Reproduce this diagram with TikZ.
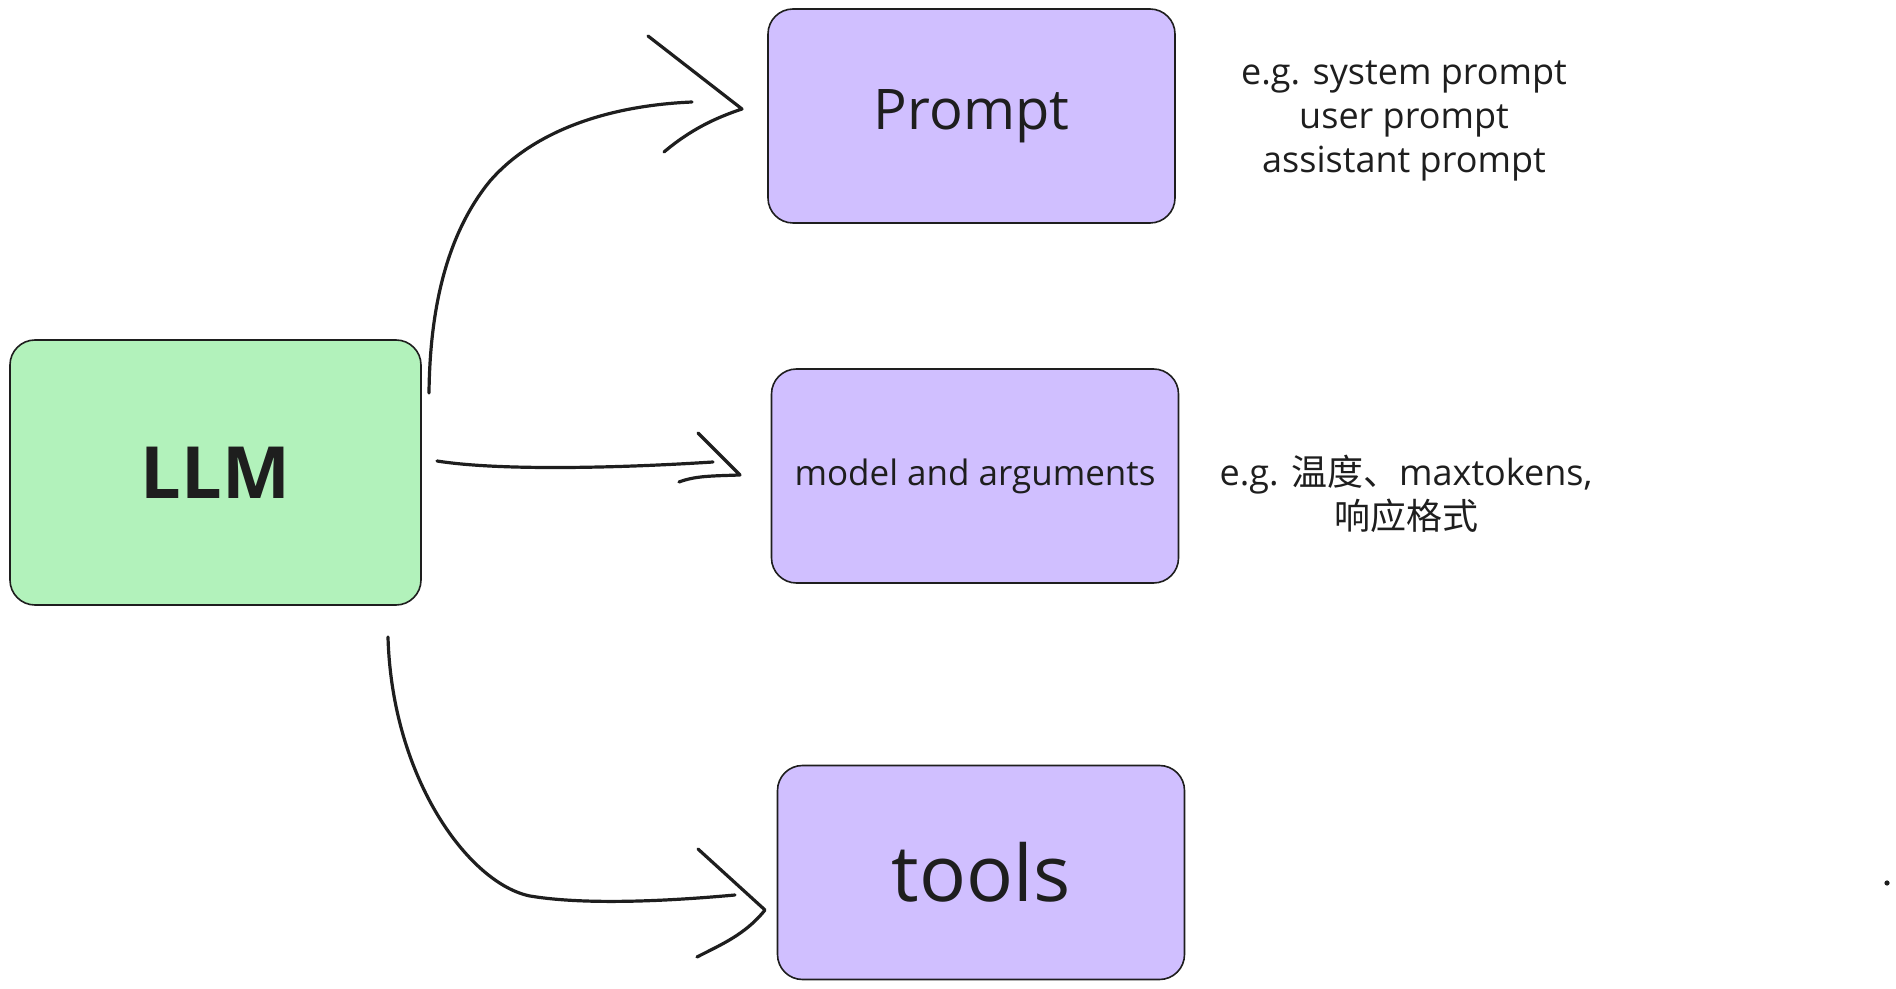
\documentclass[tikz,border=0pt]{standalone}
\usepackage{fontspec}
\setmainfont{Open Sans}
\newfontfamily\cjk{Noto Sans CJK SC}
\usepackage{xcolor}
\definecolor{llmgreen}{HTML}{B2F2BB}
\definecolor{boxviolet}{HTML}{D0BFFF}
\definecolor{ink}{HTML}{1E1E1E}

\tikzset{
  box/.style={draw=ink, line width=0.8pt, rounded corners=12.5pt, inner sep=0pt,
    minimum width=203.5pt, minimum height=107pt, text=ink},
  sketch/.style={draw=ink, line width=1.6pt, line cap=round, line join=round},
  note/.style={align=center, text=ink, inner sep=0pt, font=\fontsize{18}{22}\selectfont},
}

\begin{document}
\begin{tikzpicture}[x=0.5pt,y=0.5pt,yscale=-1,xscale=1]
\useasboundingbox (0,0) rectangle (1896,989);

%Shape: Rectangle [LLM]
\node [box, fill=llmgreen, minimum width=205.5pt, minimum height=132.5pt,
  font=\fontsize{36}{40}\selectfont\bfseries] (llm) at (215.5,472.5) {LLM};
%Shape: Rectangle [Prompt]
\node [box, fill=boxviolet, font=\fontsize{28}{32}\selectfont] (prompt) at (971.5,116) {Prompt};
%Shape: Rectangle [model]
\node [box, fill=boxviolet, font=\fontsize{17.5}{20}\selectfont] (model) at (975,476) {model and arguments};
%Shape: Rectangle [tools]
\node [box, fill=boxviolet, font=\fontsize{39}{42}\selectfont] (tools) at (981,872.5) {tools};

% Text Node
\node [note] (promptnote) at (1404,121) {e.g. system prompt\\user prompt\\assistant prompt};
% Text Node
\node [note] (modelnote) at (1406,494) {e.g. {\cjk 温度、}maxtokens,\\{\cjk 响应格式}};

% arrow ends
\coordinate (llm-up) at (429,393);
\coordinate (prompt-end) at (692,102);
\coordinate (prompt-tip) at (742,109);
\coordinate (llm-mid) at (437,461);
\coordinate (model-end) at (713,462);
\coordinate (model-tip) at (740,475);
\coordinate (llm-down) at (388,637);
\coordinate (tools-end) at (735,895);
\coordinate (tools-tip) at (765,910);

%Straight Lines [LLM -> Prompt]
\draw [sketch] (llm-up) .. controls (430,300) and (450,230) .. (490,181)
  .. controls (530,135) and (600,106) .. (prompt-end);
\draw [sketch] (648,36) -- (prompt-tip) .. controls (715,118) and (690,130) .. (664,152);
%Straight Lines [LLM -> model]
\draw [sketch] (llm-mid) .. controls (500,471) and (620,468) .. (model-end);
\draw [sketch] (698,433) -- (model-tip) .. controls (710,476) and (695,476) .. (679,482);
%Straight Lines [LLM -> tools]
\draw [sketch] (llm-down) .. controls (392,780) and (470,884) .. (530,896)
  .. controls (590,906) and (680,900) .. (tools-end);
\draw [sketch] (698,849) -- (tools-tip) .. controls (745,935) and (720,945) .. (697,957);

%Shape: Circle [dot]
\fill [ink] (1887,883) circle (1.3pt);

\end{tikzpicture}
\end{document}
